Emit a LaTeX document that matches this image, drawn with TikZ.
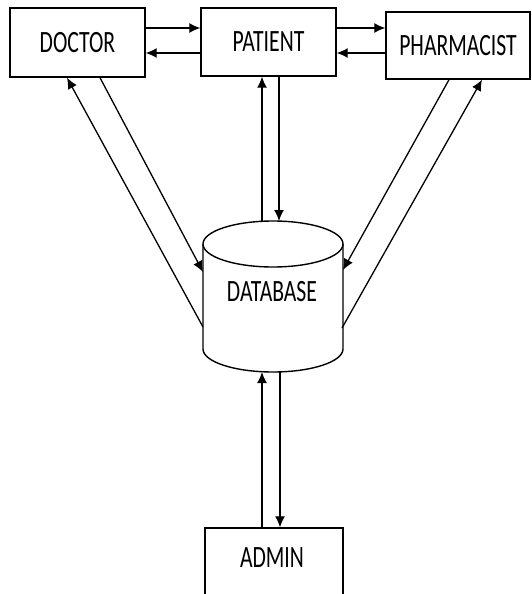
\documentclass[tikz,border=0pt]{standalone}
\usepackage{fontspec}
\setmainfont{Carlito}
\usetikzlibrary{arrows.meta}
\newcommand{\lbl}[1]{\scalebox{0.7}[1]{#1}}
\tikzset{
  box/.style={draw, line width=1.4pt, inner sep=0pt, font=\fontsize{31}{36}\selectfont},
  lab/.style={inner sep=0pt, font=\fontsize{31}{36}\selectfont},
  arr/.style={line width=1.3pt, -{Latex[length=11pt,width=10pt]}},
}
\begin{document}
\begin{tikzpicture}[x=1pt,y=-1pt]
\useasboundingbox (0,0) rectangle (532,594);
\clip (0,0) rectangle (532,594);
\fill[white] (0,0) rectangle (532,594);
% boxes
\node[box, minimum width=135, minimum height=69] (doctor) at (77.5,42.5) {\lbl{DOCTOR}};
\node[box, minimum width=135, minimum height=68] (patient) at (268.5,42) {\lbl{PATIENT}};
\node[box, minimum width=144, minimum height=67] (pharm) at (458,45.5) {\lbl{PHARMACIST}};
\node[box, minimum width=138, minimum height=92] (admin) at (274,574) {};
\node[lab] (adminlbl) at (272,558) {\lbl{ADMIN}};
% database cylinder
\draw[line width=1.4pt, fill=white] (203,244) -- (203,349) arc[start angle=180, end angle=0, x radius=70, y radius=23] -- (343,244);
\draw[line width=1.4pt] (273,244) ellipse[x radius=70, y radius=23];
\node[lab, minimum width=140, minimum height=151] (db) at (272,292) {\lbl{DATABASE}};
\coordinate (dbtop) at (273,221);
\coordinate (dbbot) at (273,372);
\coordinate (dbL1) at (203,272);
\coordinate (dbL2) at (203,327);
\coordinate (dbR1) at (343,270);
\coordinate (dbR2) at (342,328);
% horizontal connectors
\draw[arr] (doctor.east |- 0,28) -- (patient.west |- 0,28);
\draw[arr] (patient.west |- 0,53) -- (doctor.east |- 0,53);
\draw[arr] (patient.east |- 0,28) -- (pharm.west |- 0,28);
\draw[arr] (pharm.west |- 0,53) -- (patient.east |- 0,53);
% patient - database
\draw[arr] (dbtop -| 262,0) -- (patient.south -| 262,0);
\draw[arr] (patient.south -| 279,0) -- (dbtop -| 279,0);
% doctor - database
\draw[arr] (dbL2) -- (doctor.south -| 67,0);
\draw[arr] (doctor.south -| 100,0) -- (dbL1);
% pharmacist - database
\draw[arr] (pharm.south -| 449,0) -- (dbR1);
\draw[arr] (dbR2) -- (pharm.south -| 482,0);
% admin - database
\draw[arr] (admin.north -| 262,0) -- (dbbot -| 262,0);
\draw[arr] (dbbot -| 280,0) -- (admin.north -| 280,0);
\end{tikzpicture}
\end{document}
